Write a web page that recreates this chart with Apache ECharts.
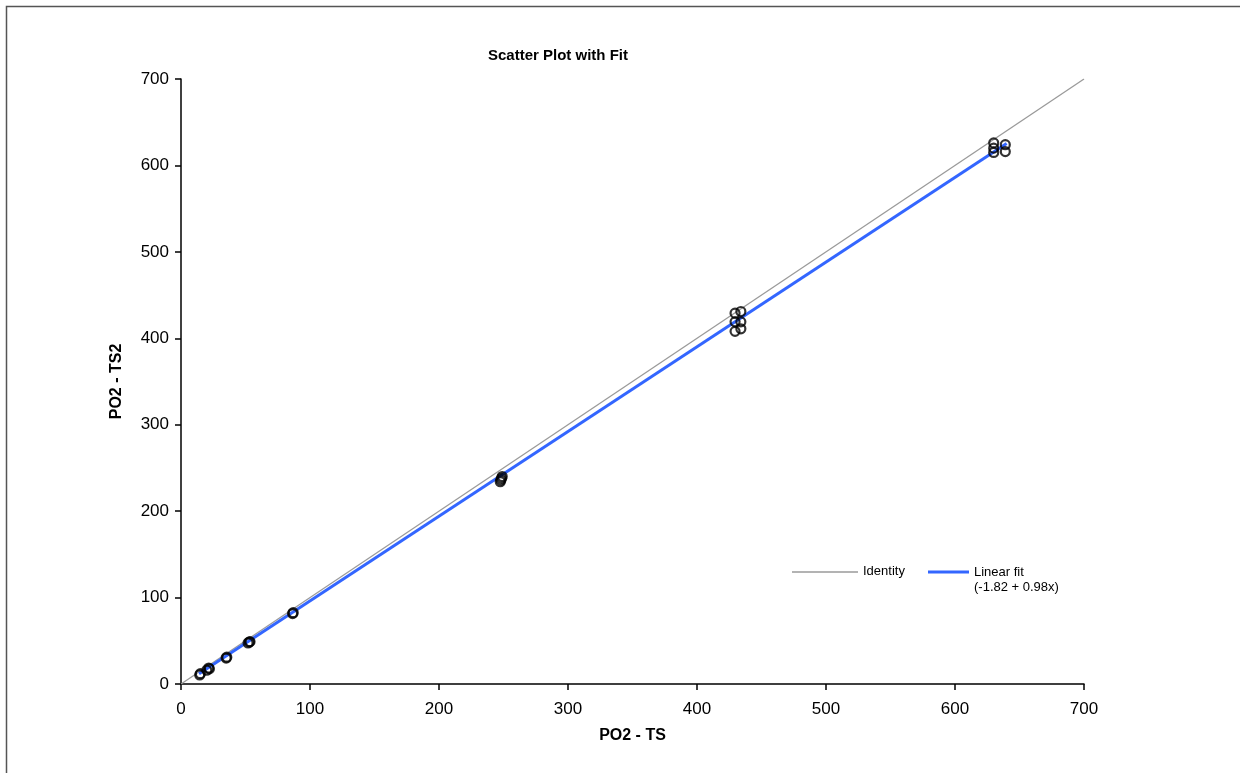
<!DOCTYPE html>
<html>
<head>
<meta charset="utf-8">
<script src="https://cdn.jsdelivr.net/npm/echarts@6/dist/echarts.min.js"></script>
<style>
  html, body { margin: 0; padding: 0; background: #fff; }
  #chart { width: 1240px; height: 773px; }
</style>
</head>
<body>
<div id="chart"></div>
<script>
// observations (PO2 - TS, PO2 - TS2)
var obsX = [14.5, 15, 20, 21.5, 22, 35, 35.5, 52, 53, 53.5, 86.5, 87, 247.5, 248, 248.5, 249,
            429.5, 434, 429.5, 434, 429.5, 434, 630, 630, 630, 639, 639];
var obsY = [10.5, 12, 16, 18.5, 17.5, 30, 31, 47.5, 48.5, 49, 81.5, 82.5, 234, 236, 238, 240,
            429, 431, 419, 419, 408, 411, 626, 620, 615, 624, 616];

var identityX = [0, 700];
var fitIntercept = -1.82;
var fitSlope = 0.98;
var fitRange = [14, 640];

var axisTicks = [0, 100, 200, 300, 400, 500, 600, 700];

var scatterData = obsX.map(function (x, i) { return [x, obsY[i]] });
var identityData = identityX.map(function (x) { return [x, x] });
var fitData = fitRange.map(function (x) { return [x, fitIntercept + fitSlope * x] });

var font = 'Liberation Sans, Arial, sans-serif';
var chart = echarts.init(document.getElementById('chart'));

var option = {
    animation: false,
    backgroundColor: '#fff',
    grid: { left: 181, right: 156, top: 79, bottom: 89 },
    xAxis: {
        type: 'value',
        min: axisTicks[0],
        max: axisTicks[axisTicks.length - 1],
        interval: 100,
        name: 'PO2 - TS',
        nameLocation: 'middle',
        nameGap: 44,
        nameTextStyle: { fontFamily: font, fontSize: 16, fontWeight: 'bold', color: '#000' },
        axisLine: { show: true, lineStyle: { color: '#000', width: 1.5 } },
        axisTick: { show: true, length: 6, lineStyle: { color: '#000', width: 1.5 } },
        axisLabel: { fontFamily: font, fontSize: 17, color: '#000', margin: 17 },
        splitLine: { show: false }
    },
    yAxis: {
        type: 'value',
        min: axisTicks[0],
        max: axisTicks[axisTicks.length - 1],
        interval: 100,
        name: 'PO2 - TS2',
        nameLocation: 'middle',
        nameGap: 56,
        nameTextStyle: { fontFamily: font, fontSize: 16, fontWeight: 'bold', color: '#000' },
        axisLine: { show: true, lineStyle: { color: '#000', width: 1.5 } },
        axisTick: { show: true, length: 6, lineStyle: { color: '#000', width: 1.5 } },
        axisLabel: { fontFamily: font, fontSize: 17, color: '#000', margin: 12 },
        splitLine: { show: false }
    },
    series: [{
        name: 'Identity',
        type: 'line',
        data: identityData,
        symbol: 'none',
        lineStyle: { color: '#9a9a9a', width: 1.3 },
        z: 2
    }, {
        name: 'Linear fit',
        type: 'line',
        data: fitData,
        symbol: 'none',
        lineStyle: { color: '#3366ff', width: 3 },
        z: 3
    }, {
        name: 'Observations',
        type: 'scatter',
        data: scatterData,
        symbol: 'circle',
        symbolSize: 9,
        itemStyle: { color: 'rgba(255,255,255,0)', borderColor: '#000', borderWidth: 2.2 },
        z: 4
    }],
    graphic: [
        // outer frame
        { type: 'rect', shape: { x: 6.5, y: 6.5, width: 1250, height: 780 },
          style: { fill: 'none', stroke: '#555', lineWidth: 1.5 }, silent: true },
        { type: 'text', left: 488, top: 48,
          style: { text: 'Scatter Plot with Fit', font: 'bold 15px ' + font, fill: '#000' } },
        // legend
        { type: 'line', shape: { x1: 792, y1: 572, x2: 858, y2: 572 },
          style: { stroke: '#9a9a9a', lineWidth: 1.3 } },
        { type: 'text', left: 863, top: 565,
          style: { text: 'Identity', font: '13px ' + font, fill: '#000' } },
        { type: 'line', shape: { x1: 928, y1: 572, x2: 969, y2: 572 },
          style: { stroke: '#3366ff', lineWidth: 3 } },
        { type: 'text', left: 974, top: 565,
          style: { text: 'Linear fit\n(-1.82 + 0.98x)', font: '13px ' + font, fill: '#000', lineHeight: 15 } }
    ]
};
chart.setOption(option);
</script>
</body>
</html>
